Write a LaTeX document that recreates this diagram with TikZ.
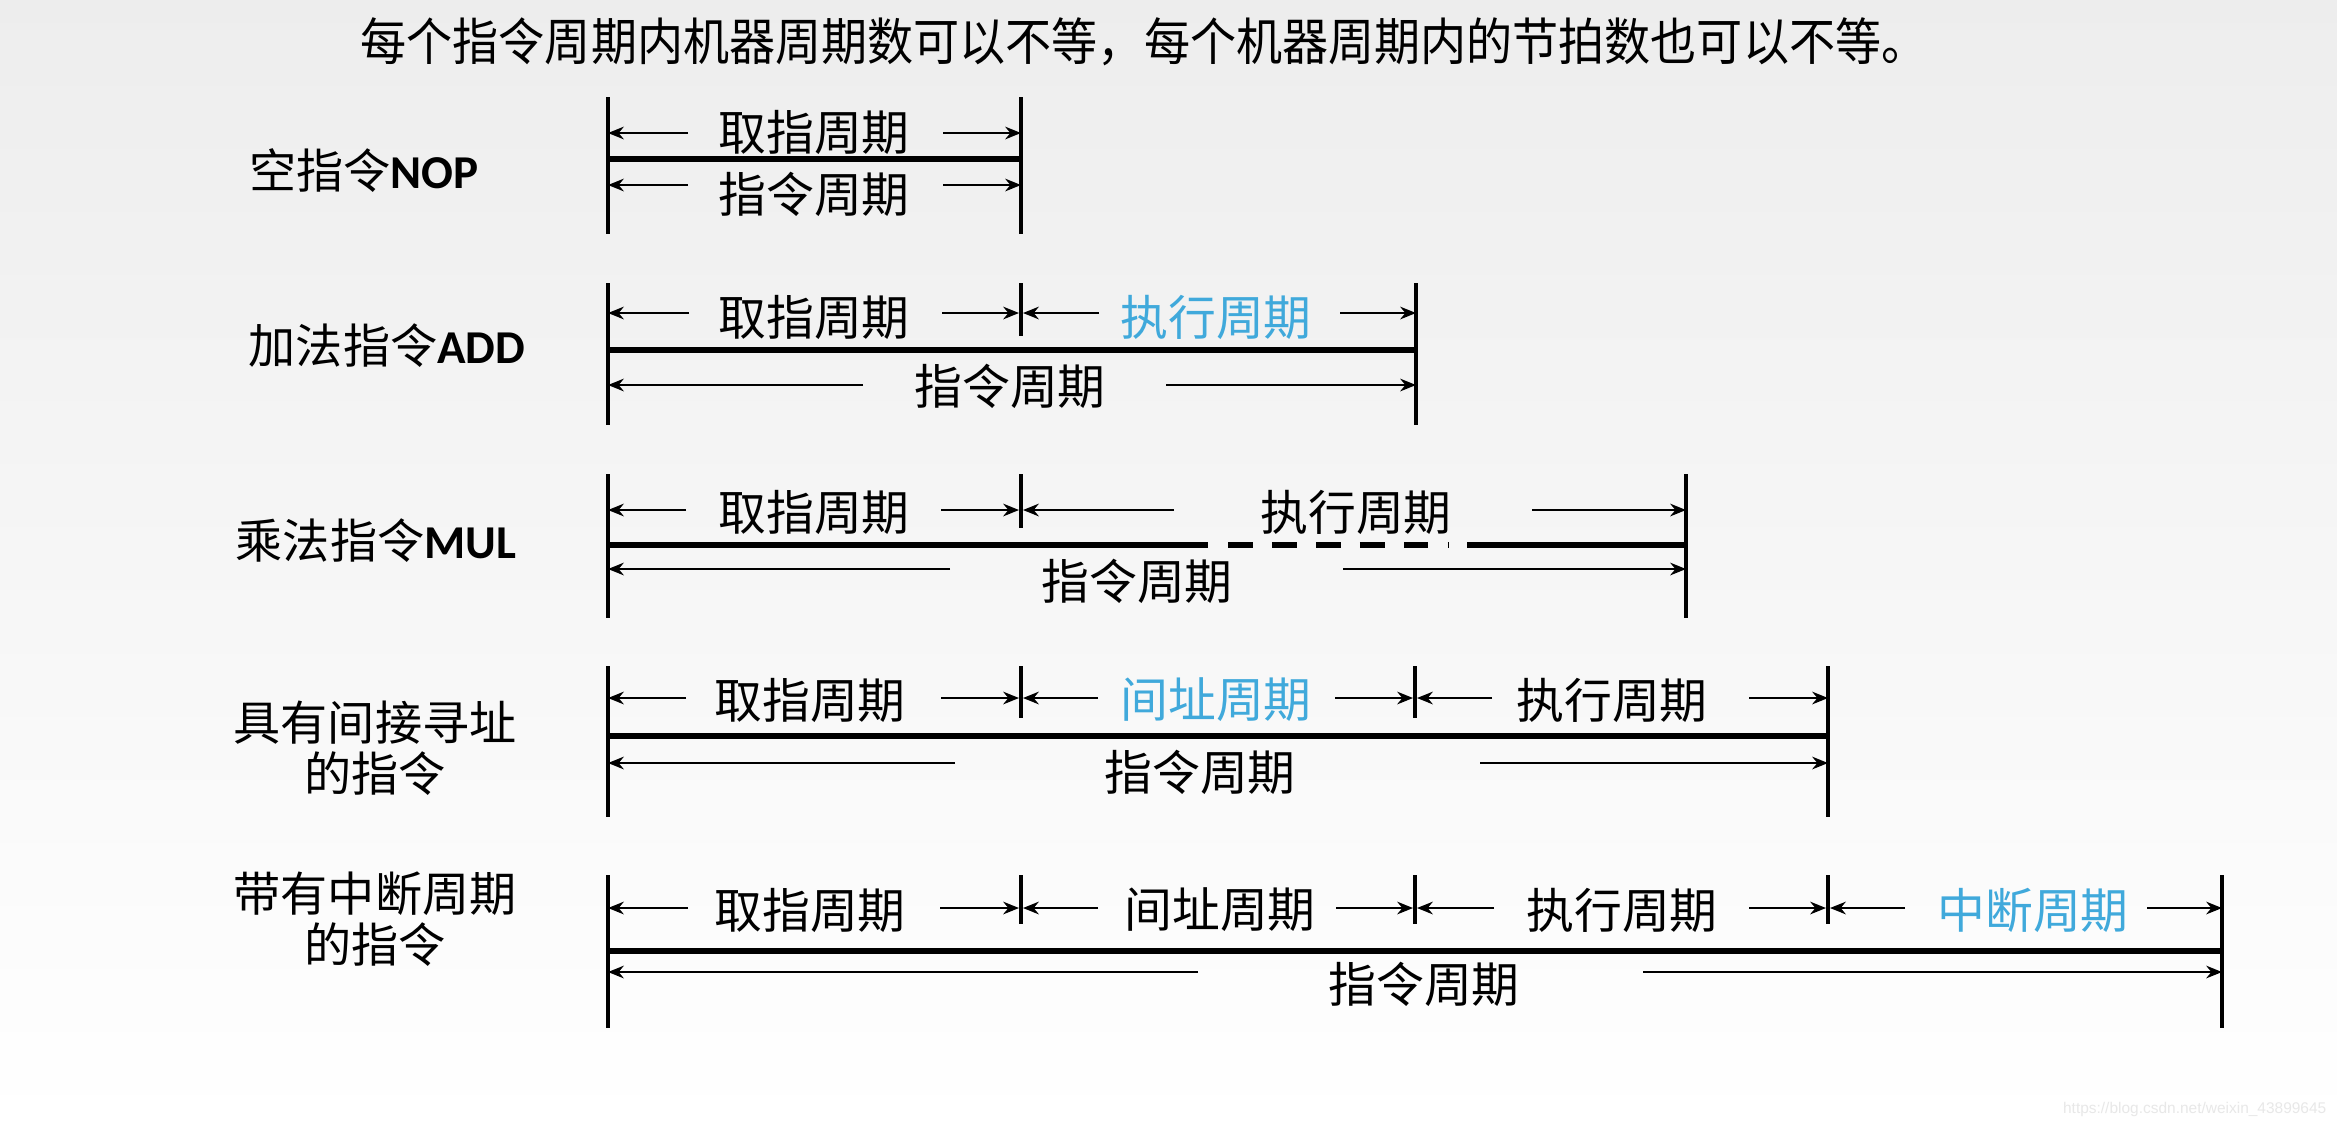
\documentclass[tikz,border=0pt]{standalone}
\usepackage{fontspec}
\usetikzlibrary{arrows.meta}
\newfontfamily\cjk{Noto Sans CJK SC}
\newfontfamily\cjkn{Noto Sans CJK SC}[FakeStretch=0.91]
\newfontfamily\carl{Carlito}
\newfontfamily\wm{Liberation Sans}
\definecolor{cyc}{HTML}{40A9DB}
\tikzset{
  vline/.style={line width=1.15pt},
  bar/.style={line width=1.5pt},
  arr/.style={line width=0.6pt,-{Stealth[length=4.5pt,width=3.6pt]}},
  lbl/.style={font=\cjk\fontsize{13.6}{16}\selectfont, inner sep=0pt},
  hl/.style={text=cyc},
  rowlab/.style={font=\cjk\fontsize{13.4}{14.6}\selectfont, align=center, inner sep=0pt},
}
% #1 name, #2 xL, #3 end of left segment, #4 start of right segment, #5 xR, #6 arrow y, #7 text x, #8 text y, #9 text
\newcommand\dimpair[9]{%
  \node[lbl] (#1) at (#7,#8) {#9};
  \coordinate (#1L) at (#2,#6);
  \coordinate (#1a) at (#3,#6);
  \coordinate (#1b) at (#4,#6);
  \coordinate (#1R) at (#5,#6);
  \draw[arr] (#1a) -- (#1L);
  \draw[arr] (#1b) -- (#1R);
}
\begin{document}
\begin{tikzpicture}[x=0.01cm,y=-0.01cm]
\useasboundingbox (0,0) rectangle (2337,1126);
\shade[top color=black!7, bottom color=white] (0,0) rectangle (2337,1126);

% title
\node[font=\cjkn\fontsize{14.4}{16}\selectfont, inner sep=0pt] (title) at (1144,42)
  {每个指令周期内机器周期数可以不等，每个机器周期内的节拍数也可以不等。};

% left labels
\node[rowlab] (l1) at (364,171) {空指令{\carl\bfseries NOP}};
\node[rowlab] (l2) at (387,346) {加法指令{\carl\bfseries ADD}};
\node[rowlab] (l3) at (376,541) {乘法指令{\carl\bfseries MUL}};
\node[rowlab] (l4) at (375,748) {具有间接寻址\\的指令};
\node[rowlab] (l5) at (375,919) {带有中断周期\\的指令};

% ---------- row 1: NOP
\coordinate (a1t) at (608,97);  \coordinate (a1b) at (608,234);
\coordinate (b1t) at (1021,97); \coordinate (b1b) at (1021,234);
\draw[vline] (a1t) -- (a1b);
\draw[vline] (b1t) -- (b1b);
\draw[bar] (608,159) coordinate (h1l) -- (1021,159) coordinate (h1r);
\dimpair{r1u}{608}{688}{943}{1021}{133}{814}{132}{取指周期}
\dimpair{r1d}{608}{688}{943}{1021}{185}{814}{194}{指令周期}

% ---------- row 2: ADD
\draw[vline] (608,283) coordinate (a2t) -- (608,425) coordinate (a2b);
\draw[vline] (1021,283) coordinate (b2t) -- (1021,336) coordinate (b2b);
\draw[vline] (1416,283) coordinate (c2t) -- (1416,425) coordinate (c2b);
\draw[bar] (608,350) coordinate (h2l) -- (1416,350) coordinate (h2r);
\dimpair{r2u1}{608}{689}{942}{1019}{313}{814}{317}{取指周期}
\dimpair{r2u2}{1023}{1099}{1340}{1416}{313}{1216}{317}{\textcolor{cyc}{执行周期}}
\dimpair{r2d}{608}{863}{1166}{1416}{385}{1010}{386}{指令周期}

% ---------- row 3: MUL
\draw[vline] (608,474) coordinate (a3t) -- (608,618) coordinate (a3b);
\draw[vline] (1021,474) coordinate (b3t) -- (1021,528) coordinate (b3b);
\draw[vline] (1686,474) coordinate (c3t) -- (1686,618) coordinate (c3b);
\draw[bar] (608,545) coordinate (h3l) -- (1208,545) coordinate (h3m1);
\draw[bar, dash pattern=on 7pt off 5.5pt] (1228,545) coordinate (h3m2) -- (1449,545) coordinate (h3m3);
\draw[bar] (1467,545) coordinate (h3m4) -- (1686,545) coordinate (h3r);
\dimpair{r3u1}{608}{686}{941}{1019}{510}{814}{512}{取指周期}
\dimpair{r3u2}{1023}{1174}{1532}{1686}{510}{1356}{512}{执行周期}
\dimpair{r3d}{608}{950}{1343}{1686}{569}{1137}{581}{指令周期}

% ---------- row 4: indirect
\draw[vline] (608,666) coordinate (a4t) -- (608,817) coordinate (a4b);
\draw[vline] (1021,666) coordinate (b4t) -- (1021,718) coordinate (b4b);
\draw[vline] (1415,666) coordinate (c4t) -- (1415,718) coordinate (c4b);
\draw[vline] (1828,666) coordinate (d4t) -- (1828,817) coordinate (d4b);
\draw[bar] (608,736) coordinate (h4l) -- (1828,736) coordinate (h4r);
\dimpair{r4u1}{608}{686}{941}{1019}{698}{810}{700}{取指周期}
\dimpair{r4u2}{1023}{1098}{1335}{1413}{698}{1216}{700}{\textcolor{cyc}{间址周期}}
\dimpair{r4u3}{1417}{1492}{1749}{1828}{698}{1612}{700}{执行周期}
\dimpair{r4d}{608}{955}{1480}{1828}{763}{1200}{772}{指令周期}

% ---------- row 5: interrupt
\draw[vline] (608,875) coordinate (a5t) -- (608,1028) coordinate (a5b);
\draw[vline] (1021,875) coordinate (b5t) -- (1021,924) coordinate (b5b);
\draw[vline] (1415,875) coordinate (c5t) -- (1415,924) coordinate (c5b);
\draw[vline] (1828,875) coordinate (d5t) -- (1828,924) coordinate (d5b);
\draw[vline] (2222,875) coordinate (e5t) -- (2222,1028) coordinate (e5b);
\draw[bar] (608,951) coordinate (h5l) -- (2222,951) coordinate (h5r);
\dimpair{r5u1}{608}{688}{940}{1019}{908}{810}{910}{取指周期}
\dimpair{r5u2}{1023}{1098}{1336}{1413}{908}{1220}{910}{间址周期}
\dimpair{r5u3}{1417}{1494}{1749}{1826}{908}{1622}{910}{执行周期}
\dimpair{r5u4}{1830}{1905}{2147}{2222}{908}{2033}{910}{\textcolor{cyc}{中断周期}}
\dimpair{r5d}{608}{1198}{1643}{2222}{972}{1424}{984}{指令周期}

% watermark
\node[font=\wm\fontsize{4.4}{5}\selectfont, text=black!9, anchor=east, inner sep=0pt] (wmark) at (2327,1109) {https://blog.csdn.net/weixin\_43899645};
\end{tikzpicture}
\end{document}
